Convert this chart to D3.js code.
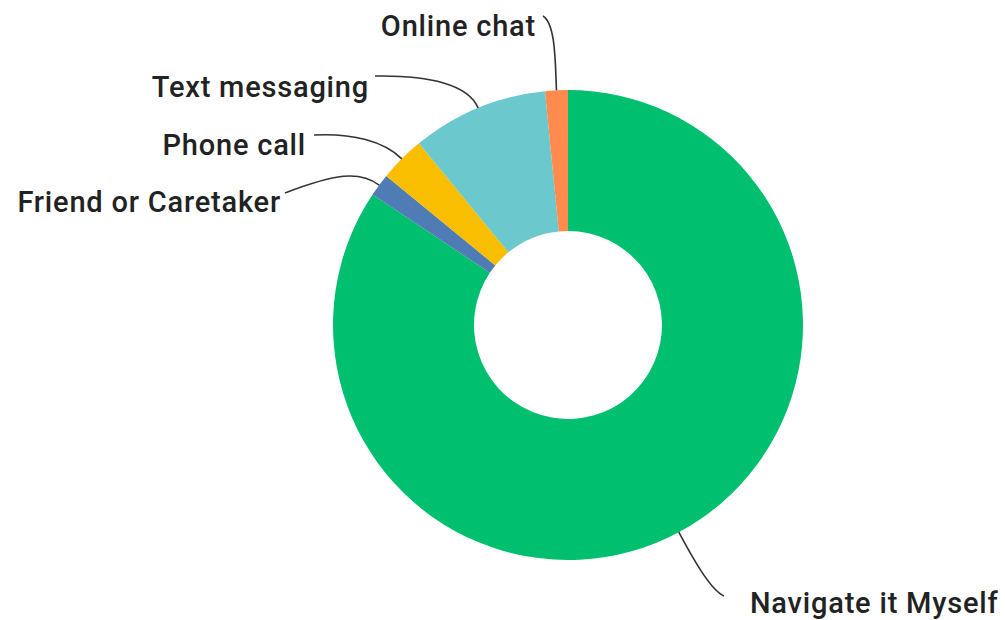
<!DOCTYPE html>
<html>
<head>
<meta charset="utf-8">
<script src="https://cdn.jsdelivr.net/npm/d3@7"></script>
<style>
  body { margin: 0; background: #fff; }
</style>
</head>
<body>
<div class="main"></div>
<script>
// Answer shares (percent of responses)
const categories = ["Navigate it Myself", "Friend or Caretaker", "Phone call", "Text messaging", "Online chat"]
const percents = [84.38, 1.56, 3.13, 9.38, 1.56]
const colors = ["#00bf6f", "#507cb6", "#f9be00", "#6bc8cd", "#ff8b4f"]

const width = 1005
const height = 620
const cx = 568, cy = 325
const outerR = 235, innerR = 94

// where each label sits and where its leader line ends
const labelLayout = {
  "Navigate it Myself":  {x: 750, y: 613, anchor: "start", elbow: [710, 590], end: [724, 596]},
  "Friend or Caretaker": {x: 281, y: 212, anchor: "end", elbow: [335, 174], end: [285, 193]},
  "Phone call":          {x: 306, y: 155, anchor: "end", elbow: [352, 133], end: [314, 135]},
  "Text messaging":      {x: 369, y: 97, anchor: "end", elbow: [430, 75], end: [375, 76]},
  "Online chat":         {x: 536, y: 36, anchor: "end", elbow: [556, 24], end: [543, 16]}
}

const data = categories.map((c, i) => ({name: c, value: percents[i], color: colors[i]}))

const pie = d3.pie().sort(null).value(d => d.value)
const arcs = pie(data)

const arc = d3.arc().innerRadius(innerR).outerRadius(outerR)

const svg = d3.select(".main").append("svg")
  .attr("width", width)
  .attr("height", height)

const g = svg.append("g")
  .attr("transform", `translate(${cx}, ${cy})`)

g.selectAll("path.slice")
  .data(arcs)
  .join("path")
    .attr("class", "slice")
    .attr("d", arc)
    .attr("fill", d => d.data.color)

// point on a ring of radius r at the slice's middle angle
function ringPoint(d, r) {
  const a = (d.startAngle + d.endAngle) / 2
  return [cx + r * Math.sin(a), cy - r * Math.cos(a)]
}

const leaders = svg.append("g")
leaders.selectAll("path")
  .data(arcs)
  .join("path")
    .attr("fill", "none")
    .attr("stroke", "#333")
    .attr("stroke-width", 1.6)
    .attr("d", d => {
      const L = labelLayout[d.data.name]
      const p0 = ringPoint(d, outerR)
      const p1 = ringPoint(d, outerR + 25)
      const path = d3.path()
      path.moveTo(p0[0], p0[1])
      path.bezierCurveTo(p1[0], p1[1], L.elbow[0], L.elbow[1], L.end[0], L.end[1])
      return path.toString()
    })

svg.append("g").selectAll("text")
  .data(arcs)
  .join("text")
    .attr("x", d => labelLayout[d.data.name].x)
    .attr("y", d => labelLayout[d.data.name].y)
    .attr("text-anchor", d => labelLayout[d.data.name].anchor)
    .attr("font-family", "Roboto, sans-serif")
    .attr("font-weight", 500)
    .attr("font-size", 29)
    .attr("letter-spacing", 0.8)
    .attr("fill", "#222")
    .text(d => d.data.name)
</script>
</body>
</html>
